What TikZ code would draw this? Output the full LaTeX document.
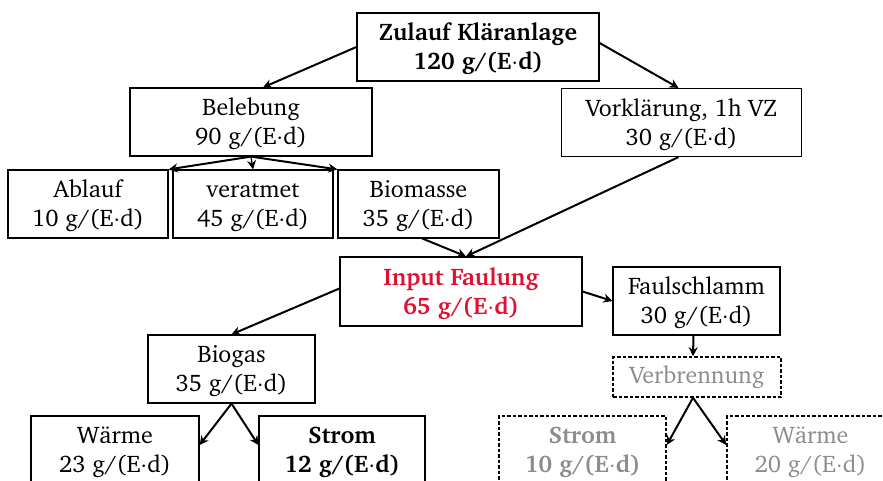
\documentclass[tikz,border=0pt]{standalone}
\usepackage[T1]{fontenc}
\usepackage{charter}
\usetikzlibrary{arrows.meta,calc}
\definecolor{fred}{RGB}{222,18,48}
\definecolor{fgray}{RGB}{140,140,140}
\newcommand\twolines[1]{\raisebox{-2.5pt}[\height][\depth]{\begin{tabular}{@{}c@{}}#1\end{tabular}}}
\begin{document}
\begin{tikzpicture}[x=1pt,y=-1pt,
  box/.style={draw,line width=1.2pt,rectangle,align=center,inner sep=0pt,
    font=\fontsize{24}{29}\selectfont},
  dbox/.style={box,dashed,dash pattern=on 3.5pt off 2pt,line width=1.5pt,text=fgray},
  arr/.style={line width=2pt,-{Stealth[length=9pt,width=9pt]}},
  ]
\useasboundingbox (0,0) rectangle (883,481);
\node[box,minimum width=242pt,minimum height=68pt] (zulauf) at (478,47) {\twolines{\textbf{Zulauf Kl\"aranlage}\\\textbf{120 g/(E$\cdot$d)}}};
\node[box,minimum width=242pt,minimum height=68pt] (beleb) at (251,122) {\twolines{Belebung\\90 g/(E$\cdot$d)}};
\node[box,minimum width=240pt,minimum height=68pt] (vork) at (681.5,122.5) {\twolines{Vorkl\"arung, 1h VZ\\30 g/(E$\cdot$d)}};
\node[box,minimum width=160pt,minimum height=68pt] (ablauf) at (88,204) {\twolines{Ablauf\\10 g/(E$\cdot$d)}};
\node[box,minimum width=160pt,minimum height=68pt] (veratmet) at (253,204) {\twolines{veratmet\\45 g/(E$\cdot$d)}};
\node[box,minimum width=161pt,minimum height=68pt] (biomasse) at (418.5,204) {\twolines{Biomasse\\35 g/(E$\cdot$d)}};
\node[box,minimum width=242pt,minimum height=69pt,text=fred] (input) at (461,291.5) {\twolines{\textbf{Input Faulung}\\\textbf{65 g/(E$\cdot$d)}}};
\node[box,minimum width=167pt,minimum height=68pt] (faul) at (696.5,301) {\twolines{Faulschlamm\\30 g/(E$\cdot$d)}};
\node[box,minimum width=167pt,minimum height=68pt] (biogas) at (231.5,369) {\twolines{Biogas\\35 g/(E$\cdot$d)}};
\node[dbox,minimum width=168pt,minimum height=40pt] (verbr) at (697,377) {Verbrennung};
\node[box,minimum width=168pt,minimum height=68pt] (waerme) at (115,450) {\twolines{W\"arme\\23 g/(E$\cdot$d)}};
\node[box,minimum width=166pt,minimum height=68pt] (strom) at (342,450) {\twolines{\textbf{Strom}\\\textbf{12 g/(E$\cdot$d)}}};
\node[dbox,minimum width=167pt,minimum height=68pt] (stromg) at (582.5,450) {\twolines{\textbf{Strom}\\\textbf{10 g/(E$\cdot$d)}}};
\node[dbox,minimum width=167pt,minimum height=68pt] (waermeg) at (810.5,450) {\twolines{W\"arme\\20 g/(E$\cdot$d)}};
\draw[arr] (zulauf.west) -- ($(beleb.north)+(12,0)$);
\draw[arr] ($(zulauf.east)+(0,-4)$) -- ($(vork.north)+(-3,0)$);
\draw[arr] (beleb.south) -- (ablauf.north east);
\draw[arr,line width=1.2pt] (beleb.south) -- (veratmet.north);
\draw[arr] (beleb.south) -- (biomasse.north west);
\draw[arr] ($(biomasse.south)+(4,0)$) -- ($(input.north)+(5,0)$);
\draw[arr] ($(vork.south)+(-3,0)$) -- ($(input.north)+(5,0)$);
\draw[arr] ($(input.west)+(0,-3)$) -- (biogas.north);
\draw[arr] (input.east) -- (faul.west);
\draw[arr] ($(faul.south)+(-3,0)$) -- ($(verbr.north)+(-4,0)$);
\draw[arr] (biogas.south) -- ($(waerme.east)+(0,-5)$);
\draw[arr] (biogas.south) -- ($(strom.west)+(0,-5)$);
\draw[arr] ($(verbr.south)+(-4,0)$) -- ($(stromg.east)+(0,-5)$);
\draw[arr] ($(verbr.south)+(-4,0)$) -- ($(waermeg.west)+(0,-5)$);
\end{tikzpicture}
\end{document}
